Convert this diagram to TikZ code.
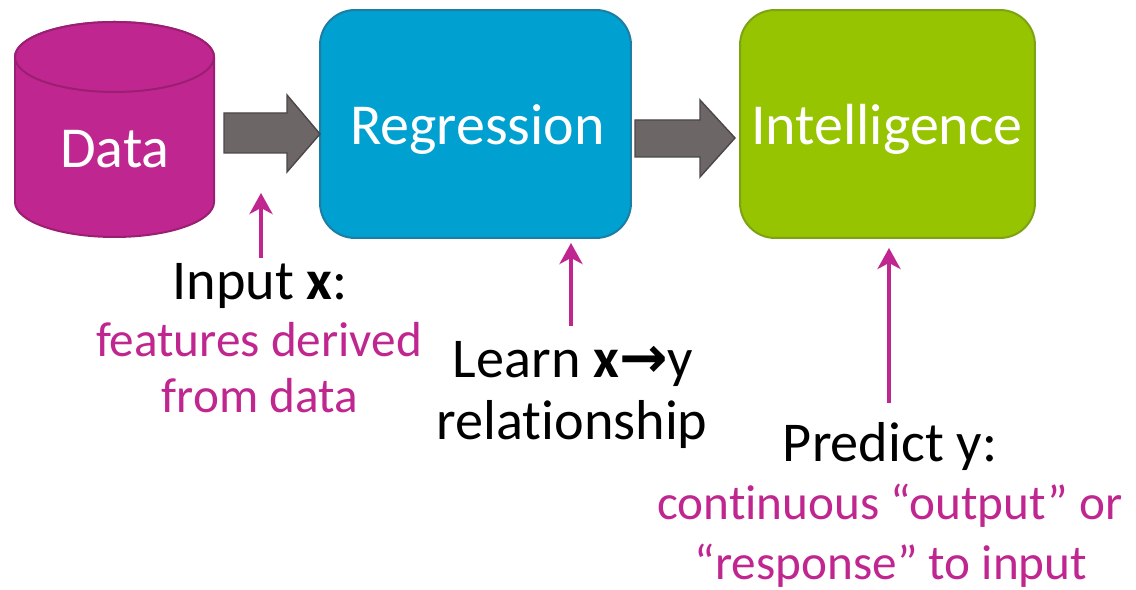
\documentclass[tikz,border=0pt]{standalone}
\usepackage{fontspec}
\setmainfont{Carlito}[Ligatures=NoCommon]
\newfontfamily\arrowfont{DejaVu Sans}
\usetikzlibrary{arrows.meta}

\definecolor{pinkc}{HTML}{C0268F}
\definecolor{pinkedge}{HTML}{9A1F73}
\definecolor{regblue}{HTML}{00A0D0}
\definecolor{regedge}{HTML}{1C7EA5}
\definecolor{intgreen}{HTML}{97C400}
\definecolor{intedge}{HTML}{7BA314}
\definecolor{arrowgrey}{HTML}{6D6666}
\definecolor{arrowedge}{HTML}{4C4646}

\tikzset{
  stage/.style={rounded corners=0.7cm, line width=0.04cm, minimum height=4.56cm},
  whitelabel/.style={anchor=base, text=white, font=\fontsize{33}{40}\selectfont},
  blacklabel/.style={anchor=base, font=\fontsize{32}{38}\selectfont},
  pinklabel/.style={anchor=base, text=pinkc, font=\fontsize{28}{34}\selectfont},
  pointer/.style={draw=pinkc, line width=0.08cm,
    -{Stealth[length=0.42cm,width=0.46cm,inset=0.12cm]}},
  blockarrow/.style={fill=arrowgrey, draw=arrowedge, line width=0.8pt},
  cylbody/.style={fill=pinkc, draw=pinkedge, line width=0.04cm}
}

\begin{document}
\begin{tikzpicture}[x=0.02cm, y=0.02cm]
\useasboundingbox (0,0) rectangle (1136,590);
% data store
\draw [cylbody] (15,533) -- (15,388) arc[start angle=180, end angle=360, x radius=99.5, y radius=35]
  -- (214,533) arc[start angle=0, end angle=180, x radius=99.5, y radius=35] -- cycle;
\draw [cylbody] (114.5,533) ellipse[x radius=99.5, y radius=35];
\node [whitelabel] (data) at (115,422) {Data};
% the two stages
\node [stage, fill=regblue, draw=regedge, minimum width=6.22cm] (reg) at (475.5,466) {};
\node [whitelabel] (regtext) at (477.5,445) {Regression};
\node [stage, fill=intgreen, draw=intedge, minimum width=5.9cm] (intel) at (887.5,466) {};
\node [whitelabel] (inteltext) at (887,445) {Intelligence};
% block arrows
\draw [blockarrow] (224,477) -- (287,477) -- (287,495) -- (320,456) -- (287,418) -- (287,437) -- (224,437) -- cycle;
\draw [blockarrow] (635,470) -- (700,470) -- (700,490) -- (735,452) -- (700,413) -- (700,433) -- (635,433) -- cycle;
% labels
\node [blacklabel] (inx) at (260,290) {Input \textbf{x}:};
\node [pinklabel] (feat1) at (259,233) {features derived};
\node [pinklabel] (feat2) at (260,177) {from data};
\node [blacklabel] (learn1) at (573,212) {Learn \textbf{x}{\arrowfont\bfseries\fontsize{33}{38}\selectfont →}y};
\node [blacklabel] (learn2) at (572,150) {relationship};
\node [blacklabel] (pred) at (890,128) {Predict y:};
\node [pinklabel] (cont1) at (890,70) {continuous “output” or};
\node [pinklabel] (cont2) at (891,10) {“response” to input};
% pointers
\coordinate (tipA) at (261,397);
\coordinate (tipB) at (571,347);
\coordinate (tipC) at (889,342);
\draw [pointer] (inx.north -| tipA) -- (tipA);
\draw [pointer, shorten <=0.2cm] (learn1.north -| tipB) -- (tipB);
\draw [pointer, shorten <=0.28cm] (pred.north -| tipC) -- (tipC);
\end{tikzpicture}
\end{document}
